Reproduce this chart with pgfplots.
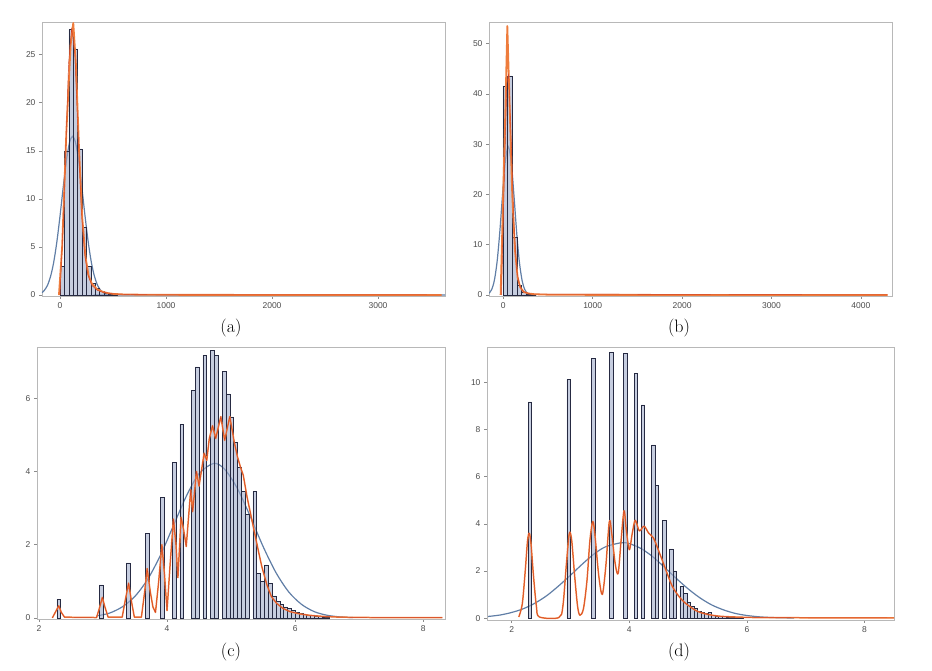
\documentclass[border=0pt]{standalone}
\usepackage{fontspec}
\newfontfamily\tickfont{Liberation Sans}
\usepackage{pgfplots}
\pgfplotsset{compat=1.18}

\definecolor{barfill}{RGB}{160,172,202}
\definecolor{barline}{RGB}{38,42,66}
\definecolor{normblue}{RGB}{96,126,166}
\definecolor{kdeorange}{RGB}{238,124,60}
\definecolor{kdered}{RGB}{210,66,36}

\pgfplotsset{
  panel/.style={scale only axis, anchor=south west, clip mode=individual,
    axis line style={black!28}, tick align=outside,
    xtick pos=left, ytick pos=left, major tick length=3pt,
    major tick style={black!45, line width=0.5pt},
    tick label style={font=\tickfont\fontsize{8.5}{10}\selectfont, text=black!70},
    /pgf/number format/assume math mode=true,
    /pgf/number format/1000 sep={}, scaled ticks=false},
  hist/.style={ybar, bar shift=0pt, fill=barfill, fill opacity=0.6,
    draw=barline, line width=0.5pt},
  normal/.style={normblue, line width=1.2pt, smooth, no marks},
  kde/.style={kdeorange, line width=1.8pt, no marks, line join=round},
  kde2/.style={kdered, line width=0.45pt, no marks, line join=round},
}

\begin{document}
\begin{tikzpicture}
\useasboundingbox (0,0) rectangle (932pt,671pt);

% ---------- (a) ----------
\begin{axis}[panel, at={(42pt,375pt)}, width=403pt, height=274pt,
  xmin=-170, xmax=3632, ymin=-0.1, ymax=28.4,
  xtick={0,1000,2000,3000}, ytick={0,5,10,15,20,25}]
\addplot[normal] coordinates {
 (-170,0.25) (-150,0.46) (-120,0.97) (-90,1.9) (-60,3.38) (-30,5.52) (0,8.22)
 (30,11.2) (60,13.95) (90,15.87) (118,16.5) (146,15.87) (176,13.95) (206,11.2)
 (236,8.22) (266,5.52) (296,3.38) (326,1.9) (356,0.97) (386,0.46) (416,0.19)
 (446,0.07) (476,0.02) (520,0.005) (3632,0.005)};
\addplot[hist, bar width=41.5] coordinates {
 (20.75,3.0) (62.25,15.0) (103.75,27.6) (145.25,25.6) (186.75,15.2)
 (228.25,7.0) (269.75,3.0) (311.25,1.2) (352.75,0.7) (394.25,0.4)
 (435.75,0.2) (477.25,0.1) (518.75,0.05)};
\addplot[kde, clip=false] coordinates {
 (-10,0) (20,5) (60,17) (100,26) (125,28.3) (150,24) (180,15) (210,8)
 (240,4) (270,2) (300,1.2) (350,0.6) (400,0.35) (450,0.2) (500,0.12)
 (600,0.06) (800,0.03) (1000,0.02) (2000,0.01) (3600,0.005)};
\addplot[kde2] coordinates {
 (0,0) (40,10) (80,24) (110,27.8) (140,25) (170,17) (200,9) (230,4.5)
 (260,2.2) (300,1) (350,0.5) (400,0.3) (500,0.12) (700,0.04) (1000,0.02)
 (3600,0.005)};
\end{axis}
\node[font=\fontsize{18}{20}\selectfont] at (231pt,343pt) {(a)};

% ---------- (b) ----------
\begin{axis}[panel, at={(489pt,375pt)}, width=403pt, height=274pt,
  xmin=-160, xmax=4348, ymin=-0.2, ymax=54.3,
  xtick={0,1000,2000,3000,4000}, ytick={0,10,20,30,40,50}]
\addplot[normal] coordinates {
 (-160,0.34) (-130,1.09) (-100,2.91) (-70,6.54) (-40,12.35) (-10,19.6)
 (20,26.2) (55,29.5) (90,26.2) (120,19.6) (150,12.35) (180,6.54) (210,2.91)
 (240,1.09) (270,0.34) (300,0.09) (330,0.02) (370,0.003)};
\addplot[hist, bar width=52] coordinates {
 (21,41.6) (73,43.6) (125,11.5) (177,2.0) (229,0.6) (281,0.2) (333,0.08)};
\addplot[kde, clip=false] coordinates {
 (-30,0) (0,21) (25,38) (45,53.5) (70,38) (100,20) (130,9) (160,3.5)
 (190,1.5) (230,0.6) (280,0.3) (350,0.15) (500,0.06) (1000,0.02) (4300,0.005)};
\addplot[kde2] coordinates {
 (-20,0) (10,22) (40,42) (60,44) (90,30) (120,14) (150,5) (180,2)
 (220,0.7) (300,0.2) (4300,0.005)};
\end{axis}
\node[font=\fontsize{18}{20}\selectfont] at (679pt,343pt) {(b)};

% ---------- (c) ----------
\begin{axis}[panel, at={(37pt,52pt)}, width=408pt, height=272pt,
  xmin=1.97, xmax=8.34, ymin=-0.03, ymax=7.4,
  xtick={2,4,6,8}, ytick={0,2,4,6}]
\addplot[normal] coordinates {
 (2.9,0.054) (3.1,0.13) (3.3,0.30) (3.5,0.59) (3.7,1.06) (3.9,1.72)
 (4.1,2.52) (4.3,3.32) (4.5,3.94) (4.73,4.22) (4.9,4.06) (5.1,3.53)
 (5.3,2.77) (5.5,1.95) (5.7,1.24) (5.9,0.71) (6.1,0.37) (6.3,0.17)
 (6.5,0.072) (6.7,0.027) (6.9,0.009)};
\addplot[hist, bar width=0.06] coordinates {
 (2.31,0.51) (2.97,0.90) (3.39,1.50) (3.69,2.30) (3.93,3.29) (4.11,4.24)
 (4.23,5.29) (4.41,6.22) (4.47,6.86) (4.59,7.18) (4.71,7.30) (4.77,7.18)
 (4.89,6.74) (4.95,6.12) (5.01,5.49) (5.07,4.79) (5.13,4.12) (5.19,3.46)
 (5.25,2.82) (5.37,3.45) (5.43,1.22) (5.49,1.0) (5.55,1.45) (5.61,0.95)
 (5.67,0.6) (5.73,0.45) (5.79,0.36) (5.85,0.3) (5.91,0.25) (5.97,0.2)
 (6.03,0.16) (6.09,0.12) (6.15,0.1) (6.21,0.08) (6.27,0.06) (6.33,0.05)
 (6.39,0.04) (6.45,0.03) (6.51,0.02)};
\addplot[kde, line width=1.5pt] coordinates {
 (2.21,0) (2.27,0.2) (2.31,0.33) (2.35,0.15) (2.40,0.02) (2.9,0.01)
 (2.95,0.3) (2.99,0.56) (3.03,0.3) (3.08,0.02) (3.3,0.02) (3.35,0.5)
 (3.40,0.95) (3.45,0.4) (3.49,0.02) (3.6,0.02) (3.65,0.7) (3.69,1.35)
 (3.74,0.7) (3.78,0.3) (3.82,0.15) (3.87,1.0) (3.92,2.0) (3.96,1.2)
 (4.0,0.2) (4.05,1.5) (4.1,2.7) (4.14,2.0) (4.17,1.1) (4.22,2.75)
 (4.26,2.4) (4.3,1.95) (4.37,3.5) (4.4,2.9) (4.46,4.0) (4.5,3.6)
 (4.58,4.5) (4.62,4.3) (4.66,4.9) (4.71,5.25) (4.76,4.9) (4.84,5.5)
 (4.9,4.85) (4.98,5.5) (5.05,4.8) (5.1,4.4) (5.15,4.1) (5.19,3.9)
 (5.25,3.3) (5.31,2.8) (5.37,2.3) (5.43,1.8) (5.48,1.4) (5.56,0.9)
 (5.63,0.58) (5.71,0.4) (5.81,0.26) (5.92,0.17) (6.07,0.11) (6.23,0.07)
 (6.44,0.04) (6.7,0.02) (7.2,0.01) (8.3,0.005)};
\addplot[kde2] coordinates {
 (2.21,0) (2.27,0.2) (2.31,0.33) (2.35,0.15) (2.40,0.02) (2.9,0.01)
 (2.95,0.3) (2.99,0.56) (3.03,0.3) (3.08,0.02) (3.3,0.02) (3.35,0.5)
 (3.40,0.95) (3.45,0.4) (3.49,0.02) (3.6,0.02) (3.65,0.7) (3.69,1.35)
 (3.74,0.7) (3.78,0.3) (3.82,0.15) (3.87,1.0) (3.92,2.0) (3.96,1.2)
 (4.0,0.2) (4.05,1.5) (4.1,2.7) (4.14,2.0) (4.17,1.1) (4.22,2.75)
 (4.26,2.4) (4.3,1.95) (4.37,3.5) (4.4,2.9) (4.46,4.0) (4.5,3.6)
 (4.58,4.5) (4.62,4.3) (4.66,4.9) (4.71,5.25) (4.76,4.9) (4.84,5.5)
 (4.9,4.85) (4.98,5.5) (5.05,4.8) (5.1,4.4) (5.15,4.1) (5.19,3.9)
 (5.25,3.3) (5.31,2.8) (5.37,2.3) (5.43,1.8) (5.48,1.4) (5.56,0.9)
 (5.63,0.58) (5.71,0.4) (5.81,0.26) (5.92,0.17) (6.07,0.11) (6.23,0.07)
 (6.44,0.04) (6.7,0.02) (7.2,0.01) (8.3,0.005)};
\end{axis}
\node[font=\fontsize{18}{20}\selectfont] at (231pt,19pt) {(c)};

% ---------- (d) ----------
\begin{axis}[panel, at={(487pt,51pt)}, width=407pt, height=273pt,
  xmin=1.58, xmax=8.5, ymin=-0.08, ymax=11.5,
  xtick={2,4,6,8}, ytick={0,2,4,6,8,10}]
\addplot[normal] coordinates {
 (1.6,0.07) (1.8,0.13) (2.0,0.24) (2.2,0.40) (2.4,0.64) (2.6,0.96)
 (2.8,1.37) (3.0,1.82) (3.2,2.29) (3.4,2.72) (3.6,3.03) (3.87,3.2)
 (4.0,3.16) (4.2,2.95) (4.4,2.6) (4.6,2.15) (4.8,1.68) (5.0,1.24)
 (5.2,0.86) (5.4,0.56) (5.6,0.35) (5.8,0.20) (6.0,0.11) (6.2,0.056)
 (6.4,0.027) (6.6,0.012) (6.8,0.005)};
\addplot[hist, bar width=0.06] coordinates {
 (2.31,9.17) (2.97,10.13) (3.39,11.01) (3.69,11.27) (3.93,11.24)
 (4.11,10.38) (4.23,9.04) (4.41,7.35) (4.47,5.62) (4.59,4.14) (4.71,2.94)
 (4.77,2.0) (4.89,1.35) (4.95,1.05) (5.01,0.69) (5.07,0.5) (5.13,0.4)
 (5.19,0.3) (5.25,0.25) (5.31,0.2) (5.37,0.24) (5.43,0.12) (5.49,0.1)
 (5.55,0.08) (5.61,0.06) (5.67,0.05) (5.73,0.04) (5.79,0.03) (5.85,0.02)
 (5.91,0.02)};
\addplot[kde, line width=1.5pt, smooth, tension=0.5] coordinates {
 (2.12,0.05) (2.18,0.6) (2.23,2.0) (2.27,3.3) (2.30,3.6) (2.33,3.1)
 (2.37,1.8) (2.42,0.5) (2.47,0.05) (2.8,0.02) (2.87,0.5) (2.93,2.3)
 (2.98,3.6) (3.02,3.3) (3.07,1.8) (3.12,0.5) (3.16,0.12) (3.22,0.4)
 (3.28,1.6) (3.33,3.3) (3.38,4.1) (3.42,3.4) (3.48,1.8) (3.54,1.0)
 (3.6,2.2) (3.66,4.1) (3.7,3.6) (3.76,2.3) (3.81,1.9) (3.86,3.3)
 (3.91,4.55) (3.95,3.7) (4.0,2.9) (4.05,3.6) (4.1,4.15) (4.17,3.7)
 (4.25,3.9) (4.33,3.6) (4.41,3.4) (4.5,2.85) (4.62,2.05) (4.73,1.35)
 (4.85,0.9) (4.96,0.62) (5.14,0.31) (5.31,0.17) (5.54,0.08) (5.89,0.04)
 (6.35,0.02) (8.5,0.005)};
\addplot[kde2, smooth, tension=0.5] coordinates {
 (2.12,0.05) (2.18,0.6) (2.23,2.0) (2.27,3.3) (2.30,3.6) (2.33,3.1)
 (2.37,1.8) (2.42,0.5) (2.47,0.05) (2.8,0.02) (2.87,0.5) (2.93,2.3)
 (2.98,3.6) (3.02,3.3) (3.07,1.8) (3.12,0.5) (3.16,0.12) (3.22,0.4)
 (3.28,1.6) (3.33,3.3) (3.38,4.1) (3.42,3.4) (3.48,1.8) (3.54,1.0)
 (3.6,2.2) (3.66,4.1) (3.7,3.6) (3.76,2.3) (3.81,1.9) (3.86,3.3)
 (3.91,4.55) (3.95,3.7) (4.0,2.9) (4.05,3.6) (4.1,4.15) (4.17,3.7)
 (4.25,3.9) (4.33,3.6) (4.41,3.4) (4.5,2.85) (4.62,2.05) (4.73,1.35)
 (4.85,0.9) (4.96,0.62) (5.14,0.31) (5.31,0.17) (5.54,0.08) (5.89,0.04)
 (6.35,0.02) (8.5,0.005)};
\end{axis}
\node[font=\fontsize{18}{20}\selectfont] at (679pt,19pt) {(d)};
\end{tikzpicture}
\end{document}
